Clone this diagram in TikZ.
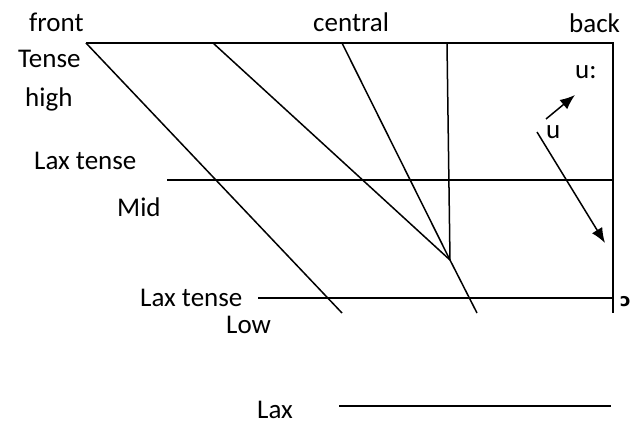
\documentclass[tikz,border=0pt]{standalone}
\usepackage{fontspec}
\setmainfont{Carlito}
\newfontfamily\ipafont{DejaVu Sans}
\usetikzlibrary{arrows.meta}

\begin{document}
\begin{tikzpicture}[x=1pt, y=-1pt, >={Latex[length=15pt,width=12pt]},
    edge/.style={line width=1.5pt},
    lbl/.style={font=\fontsize{27}{32}\selectfont, inner sep=0pt, anchor=base west}]
  \useasboundingbox (0,0) rectangle (633,425);

  % Corners of the chart
  \coordinate (tl) at (86,43);
  \coordinate (tr) at (613,43);
  \coordinate (br) at (613,313);

  % Top and back edges
  \draw[edge] (tl) -- (tr) -- (br);

  % Front diagonal
  \coordinate (frontlow) at (342,313);
  \draw[edge] (tl) -- (frontlow);

  % Lines meeting at one point
  \coordinate (c1) at (213,43);
  \coordinate (c2) at (342,43);
  \coordinate (c3) at (447,43);
  \coordinate (meet) at (450,260);
  \coordinate (tail) at (477,313);
  \draw[edge] (c1) -- (meet);
  \draw[edge] (c2) -- (meet);
  \draw[edge] (c3) -- (meet) -- (tail);

  % Height lines
  \coordinate (midl) at (167,180);
  \coordinate (midr) at (613,180);
  \draw[edge] (midl) -- (midr);
  \coordinate (lowl) at (258,298);
  \coordinate (lowr) at (613,298);
  \draw[edge] (lowl) -- (lowr);
  \coordinate (laxl) at (339,406);
  \coordinate (laxr) at (611,406);
  \draw[edge] (laxl) -- (laxr);

  % Arrows
  \coordinate (a1) at (546,119);
  \coordinate (a2) at (575,95);
  \draw[edge, ->] (a1) -- (a2);
  \coordinate (b1) at (537,132);
  \coordinate (b2) at (605,243);
  \draw[edge, ->] (b1) -- (b2);

  % Labels
  \node[lbl] (front) at (29,32) {front};
  \node[lbl] (central) at (313,32) {central};
  \node[lbl] (back) at (569,33) {back};
  \node[lbl] (tense) at (18,68) {Tense};
  \node[lbl] (high) at (25,107) {high};
  \node[lbl] (ulong) at (575,79) {u:};
  \node[lbl] (ushort) at (546,139) {u};
  \node[lbl] (laxtense1) at (34,170) {Lax tense};
  \node[lbl] (mid) at (117,217) {Mid};
  \node[lbl] (laxtense2) at (140,307) {Lax tense};
  \node[lbl] (low) at (226,334) {Low};
  \node[lbl, font=\fontsize{18}{21}\ipafont\bfseries] (openo) at (620,307) {ɔ};
  \node[lbl] (lax) at (257,418) {Lax};
\end{tikzpicture}
\end{document}
